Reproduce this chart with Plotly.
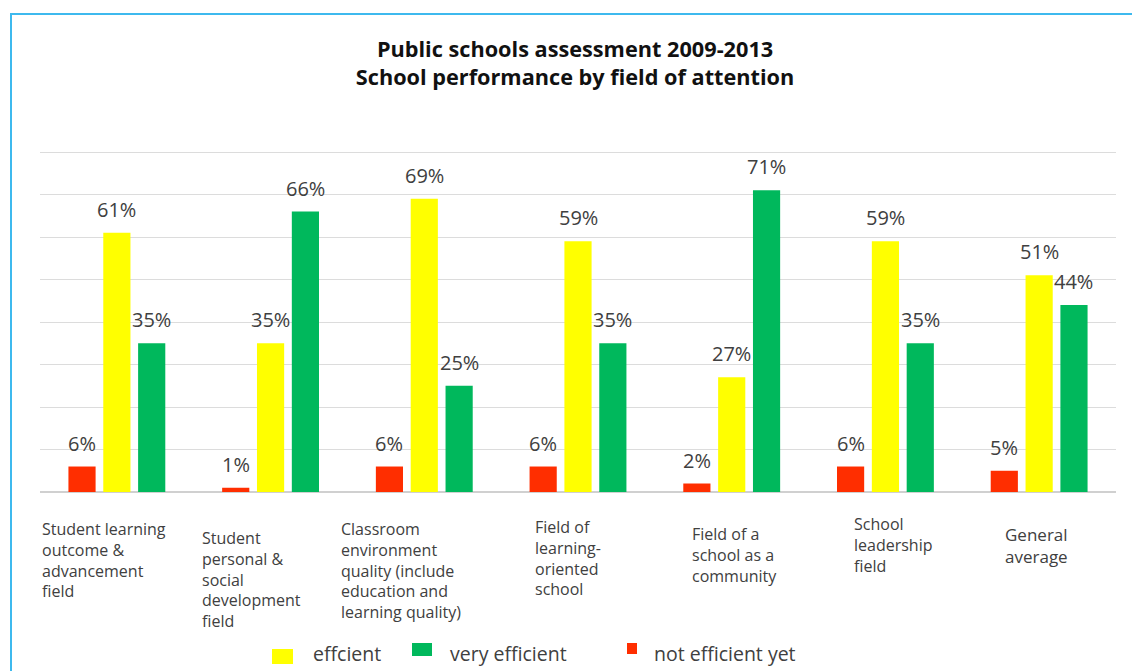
import plotly.graph_objects as go

# Fields of attention (x categories)
categories = [
    "Student learning outcome & advancement field",
    "Student personal & social development field",
    "Classroom environment quality (include education and learning quality)",
    "Field of learning-oriented school",
    "Field of a school as a community",
    "School leadership field",
    "General average",
]
# Display text for each category label (line-broken)
category_labels = [
    "Student learning<br>outcome &<br>advancement<br>field",
    "Student<br>personal &<br>social<br>development<br>field",
    "Classroom<br>environment<br>quality (include<br>education and<br>learning quality)",
    "Field of<br>learning-<br>oriented<br>school",
    "Field of a<br>school as a<br>community",
    "School<br>leadership<br>field",
    "General<br>average",
]

# Share of schools (%) per rating
not_efficient_yet = [6, 1, 6, 6, 2, 6, 5]
efficient = [61, 35, 69, 59, 27, 59, 51]
very_efficient = [35, 66, 25, 35, 71, 35, 44]

series = [
    ("not efficient yet", not_efficient_yet, "#FF2E00"),
    ("effcient", efficient, "#FFFF00"),
    ("very efficient", very_efficient, "#00B85C"),
]

# Plot area geometry in pixels
W, H = 1132, 671
ML, MR, MT, MB = 40, 16, 150, 179
PW, PH = W - ML - MR, H - MT - MB
BARGAP = 0.32
Y_MAX = 80.5


def px_to_paper_x(px):
    return (px - ML) / PW


def px_to_paper_y(py):
    return (H - MB - py) / PH


fig = go.Figure()
for name, vals, color in series:
    fig.add_trace(go.Bar(
        x=categories, y=vals, name=name,
        marker=dict(color=color, line=dict(width=0)),
        showlegend=False,
    ))

text_font = dict(family="Open Sans, sans-serif", color="#404040")
annotations = []

# Value labels above each bar
slot = PW / len(categories) * (1 - BARGAP) / 3
for i, (name, vals, color) in enumerate(series):
    for cat, v in zip(categories, vals):
        annotations.append(dict(
            x=cat, y=v, xref="x", yref="y", text=f"{v}%",
            showarrow=False, xanchor="center", yanchor="bottom",
            xshift=(i - 1) * slot, yshift=8,
            font=dict(size=20, **text_font),
        ))

# Category labels under the axis (left-aligned text blocks)
label_pos = [  # (left px, first line centre px, font size)
    (40, 527, 16), (200, 536, 16), (339, 527, 16), (533, 525, 16),
    (690, 532, 16), (852, 522, 16), (1003, 533, 17),
]
for lab, (lx, cy, fs) in zip(category_labels, label_pos):
    half_line = fs * 1.3 / 2
    annotations.append(dict(
        x=px_to_paper_x(lx), y=px_to_paper_y(cy - half_line - 1),
        xref="paper", yref="paper", text=lab, showarrow=False,
        xanchor="left", yanchor="top", align="left",
        font=dict(size=fs, **text_font),
    ))

# Legend drawn below the labels
legend_items = [  # (name, color, box x0, x1, y0, y1, text x)
    ("effcient", "#FFFF00", 272, 293, 649, 664, 311),
    ("very efficient", "#00B85C", 412, 432, 643, 656, 448),
    ("not efficient yet", "#FF2E00", 627, 637, 643, 654, 652),
]
shapes = []
for name, color, x0, x1, y0, y1, tx in legend_items:
    shapes.append(dict(
        type="rect", xref="paper", yref="paper",
        x0=px_to_paper_x(x0), x1=px_to_paper_x(x1),
        y0=px_to_paper_y(y1), y1=px_to_paper_y(y0),
        fillcolor=color, line=dict(width=0), layer="above",
    ))
    annotations.append(dict(
        x=px_to_paper_x(tx), y=px_to_paper_y(653), xref="paper", yref="paper",
        text=name, showarrow=False, xanchor="left", yanchor="middle",
        font=dict(size=19.5, **text_font),
    ))

# Light blue frame on the top and left edges
shapes.append(dict(
    type="path", xref="paper", yref="paper",
    path=(f"M {px_to_paper_x(11)},{px_to_paper_y(H + 5)} "
          f"L {px_to_paper_x(11)},{px_to_paper_y(14)} "
          f"L {px_to_paper_x(W + 5)},{px_to_paper_y(14)}"),
    line=dict(color="#3DB9EE", width=2),
))

fig.update_layout(
    width=W, height=H,
    margin=dict(l=ML, r=MR, t=MT, b=MB),
    paper_bgcolor="white", plot_bgcolor="white",
    barmode="group", bargap=BARGAP, bargroupgap=0.22,
    title=dict(
        text="<b>Public schools assessment 2009-2013<br>School performance by field of attention</b>",
        x=0.508, xanchor="center", y=1 - 56.5 / H, yanchor="middle",
        font=dict(family="Open Sans, sans-serif", size=21.7, color="#111111"),
    ),
    xaxis=dict(showticklabels=False, showgrid=False, zeroline=False, showline=False),
    yaxis=dict(range=[0, Y_MAX], dtick=10, showticklabels=False,
               showgrid=True, gridcolor="#DCDCDC", gridwidth=1,
               zeroline=True, zerolinecolor="#D0D0D0", zerolinewidth=1.5),
    annotations=annotations,
    shapes=shapes,
)

fig.write_html("out.html")
